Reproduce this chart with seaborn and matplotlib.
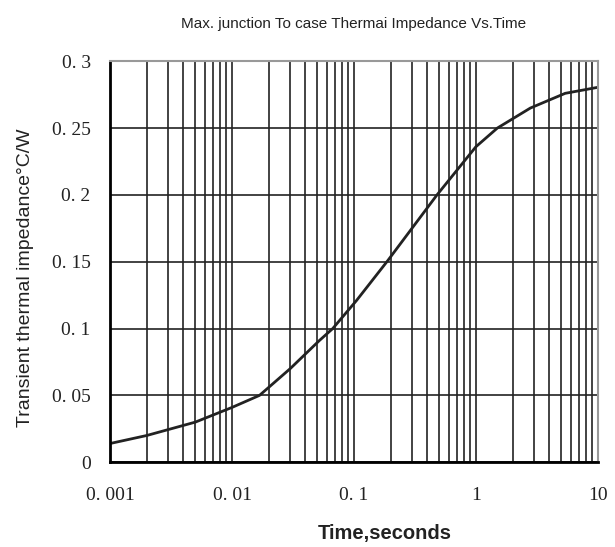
#!/usr/bin/env python3

import matplotlib
matplotlib.use('Agg')
import matplotlib.pyplot as plt
import matplotlib.ticker as mticker
import pandas as pd
import seaborn as sns


# curve
TIME_S = [0.001, 0.002, 0.005, 0.01, 0.0168, 0.02, 0.03, 0.052, 0.067,
          0.105, 0.19, 0.48, 1.0, 1.5, 2.8, 5.4, 10]
ZTH = [0.014, 0.020, 0.030, 0.041, 0.050, 0.056, 0.070, 0.091, 0.100,
       0.121, 0.151, 0.200, 0.236, 0.250, 0.265, 0.276, 0.2805]

X_TICKS = [0.001, 0.01, 0.1, 1, 10]
X_LABELS = ['0. 001', '0. 01', '0. 1', '1', '10']
Y_TICKS = [0, 0.05, 0.1, 0.15, 0.2, 0.25, 0.3]
Y_LABELS = ['0', '0. 05', '0. 1', '0. 15', '0. 2', '0. 25', '0. 3']

TITLE = 'Max. junction To case Thermai Impedance Vs.Time'
XLABEL = 'Time,seconds'
YLABEL = 'Transient thermal impedance°C/W'

sns.set_style('white')
plt.rcParams['font.family'] = ['Liberation Sans', 'DejaVu Sans']

df = pd.DataFrame({'t': TIME_S, 'z': ZTH})

fig = plt.figure(figsize=(6.15, 5.47), dpi=100)
ax = fig.add_axes([0.179, 0.155, 0.793, 0.733])

sns.lineplot(x='t', y='z', data=df, ax=ax, color='#222222', linewidth=2.0)

ax.set_xscale('log')
ax.set_xlim(0.001, 10)
ax.set_ylim(0, 0.3)

ax.xaxis.set_minor_locator(mticker.LogLocator(base=10, subs=range(2, 10), numticks=20))
ax.xaxis.set_minor_formatter(mticker.NullFormatter())
ax.set_xticks(X_TICKS)
ax.set_xticklabels(X_LABELS, family='Liberation Serif', fontsize=14, color='#222222')
ax.set_yticks(Y_TICKS)
ax.set_yticklabels(Y_LABELS, family='Liberation Serif', fontsize=14, color='#222222')

ax.grid(True, which='both', axis='x', color='#222222', linewidth=1.2)
ax.grid(True, which='major', axis='y', color='#222222', linewidth=1.2)
ax.tick_params(axis='x', which='both', length=0, pad=18)
ax.tick_params(axis='y', which='both', length=0, pad=14)

for side in ['left', 'bottom']:
    ax.spines[side].set_color('black')
    ax.spines[side].set_linewidth(2)
for side in ['top', 'right']:
    ax.spines[side].set_color('#999999')
    ax.spines[side].set_linewidth(1.5)

ax.set_title(TITLE, fontsize=11, pad=24, color='#222222')
ax.set_xlabel(XLABEL, fontsize=14.5, fontweight='bold', color='#222222')
ax.xaxis.set_label_coords(0.563, -0.155)
ax.set_ylabel(YLABEL, fontsize=14, color='#222222')
ax.yaxis.set_label_coords(-0.157, 0.461)

fig.savefig('out.png', dpi=100)
plt.close(fig)
